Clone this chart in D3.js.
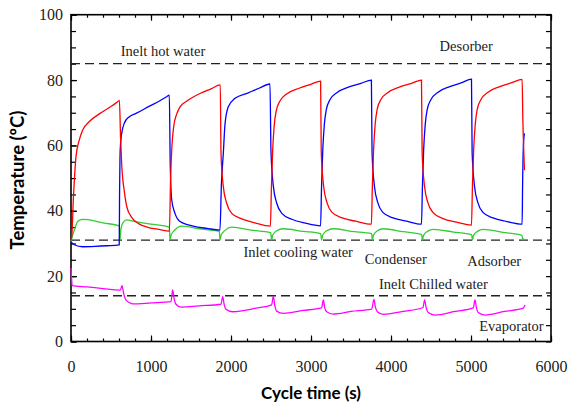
<!DOCTYPE html>
<html>
<head>
<meta charset="utf-8">
<script src="https://d3js.org/d3.v7.min.js"></script>
<style>
  body { margin: 0; background: #fff; }
  text { font-family: "Liberation Serif", "Times New Roman", serif; fill: #222; }
  .title { font-family: Lato, "Open Sans", sans-serif; font-weight: bold; fill: #000; }
</style>
</head>
<body>
<svg id="chart"></svg>
<script>
  // values: [time (s), temperature (C)]
  var bed1Temp = [
    [0,31],[12,33],[30,44],[42,49.4],[62,56.5],[104,61.7],[146,64.7],[229,67.3],[363,69.8],[480,71.6],[571,73.1],[605,73.8],
    [620,62],[634,54],[666,46],[700,41],[758,38],[850,36],[950,35],[1100,34.3],[1230,33.8],
    [1245,50],[1262,60],[1285,66],[1320,69.5],[1363,71.8],[1450,73.6],[1613,75.9],[1750,77.3],[1866,78.5],
    [1875,57.7],[1904,47.4],[1946,42.3],[2009,39.2],[2134,37.5],[2300,36.3],[2493,35.3],
    [2505,47],[2520,58],[2540,66],[2565,70.5],[2610,73.5],[2700,75.8],[2850,77.5],[3000,78.7],[3120,79.7],
    [3128,58],[3158,47.5],[3200,42.5],[3263,39.5],[3390,37.8],[3560,36.8],[3755,35.9],
    [3767,47.5],[3782,58.5],[3802,66.5],[3827,71],[3872,74],[3962,76.2],[4110,77.9],[4260,79],[4381,80],
    [4389,58],[4419,47.5],[4461,42.5],[4524,39.5],[4650,37.6],[4820,36.5],[5006,35.6],
    [5018,47.5],[5033,58.5],[5053,66.5],[5078,71],[5123,74],[5213,76.3],[5360,78],[5510,79.2],[5639,80.2],
    [5648,68],[5660,58],[5668,52.4]
  ];

  var bed2Temp = [
    [0,30.5],[40,29.6],[146,29.0],[300,29.1],[450,29.3],[603,29.6],
    [607,45],[612,56],[620,60.7],[640,64.5],[666,66.8],[729,68.8],[813,69.8],[988,72.1],[1100,73.5],[1196,74.9],[1229,75.4],
    [1240,55],[1259,43.3],[1300,39.2],[1363,36.7],[1529,35.3],[1700,34.6],[1862,34.1],
    [1880,48],[1904,57.6],[1925,66.5],[1966,71.8],[2050,74.4],[2216,76.1],[2350,77.5],[2487,78.8],
    [2500,58],[2530,47.4],[2572,42.3],[2635,39.2],[2760,37.4],[2930,36.2],[3120,35.4],
    [3132,47.5],[3147,58.5],[3167,66.5],[3192,71],[3237,74],[3327,76.2],[3475,77.9],[3625,79],[3755,80],
    [3763,58],[3793,47.5],[3835,42.5],[3898,39.5],[4025,37.8],[4195,36.8],[4381,35.9],
    [4393,47.5],[4408,58.5],[4428,66.5],[4453,71],[4498,74],[4588,76.3],[4735,78],[4885,79.2],[5006,80.3],
    [5014,58],[5044,47.5],[5086,42.5],[5149,39.5],[5275,37.8],[5450,36.7],[5639,35.9],
    [5645,48],[5655,60],[5668,63.7]
  ];

  var condenserTemp = [
    [0,30.5],[20,32.5],[42,34.1],[83,36.7],[146,37.4],[213,37.3],[400,36.3],[604,35.4],
    [612,31.0],[620,33.5],[646,36.2],[696,37.2],[800,36.7],[1000,35.9],[1229,35.0],
    [1238,31.0],[1250,32.5],[1300,34.2],[1383,35.3],[1600,34.5],[1854,33.7],
    [1862,31.0],[1875,32.5],[1925,34.0],[2008,35.0],[2250,34.1],[2496,33.3],
    [2508,31.0],[2520,32.5],[2570,33.9],[2654,34.5],[2900,33.7],[3121,33.0],
    [3133,31.0],[3145,32.5],[3195,33.9],[3279,34.5],[3500,33.7],[3758,33.0],
    [3767,31.0],[3780,32.5],[3830,33.9],[3904,34.5],[4150,33.6],[4383,32.7],
    [4393,31.0],[4405,32.4],[4455,33.7],[4529,34.3],[4780,33.5],[5008,32.7],
    [5018,31.0],[5030,32.4],[5080,33.7],[5154,34.3],[5400,33.4],[5636,32.5],
    [5650,31.0],[5660,31.5]
  ];

  var evaporatorTemp = [
    [0,22.5],[8,19],[15,17.1],[200,16.7],[400,16.2],[617,15.75],[637,17.1],[660,14.5],[687,12.7],[730,11.9],[771,11.5],[1000,11.8],
    [1250,12.2],[1271,15.8],[1290,13],[1312,11.4],[1375,10.5],[1600,10.9],[1875,11.4],[1896,13.7],[1915,11.3],[1937,9.9],[2021,9.1],
    [2312,10.2],[2508,11.2],[2529,13.9],[2548,11],[2571,9.3],[2654,8.6],[2900,9.5],[3133,10.3],[3154,12.7],[3172,10.3],[3196,9.1],
    [3279,8.4],[3500,9.2],[3758,9.9],[3787,12.9],[3805,10.5],[3829,9.1],[3904,8.3],[4150,9.2],[4400,10.4],[4420,12.7],[4440,10.3],
    [4466,8.9],[4550,8.1],[4800,9.2],[5029,10.3],[5050,12.7],[5068,10.3],[5091,8.9],[5175,8.1],[5420,9.2],[5654,10.2],[5675,11.2]
  ];

  // inlet water temperatures (dashed lines)
  var inletTemps = [85, 31, 14];

  var xTicks = [0, 1000, 2000, 3000, 4000, 5000, 6000];
  var yTicks = [0, 20, 40, 60, 80, 100];

  var labels = [
    { text: "Inelt hot water", t: 1150, v: 87.4 },
    { text: "Desorber", t: 4940, v: 88.9 },
    { text: "Inlet cooling water", t: 2840, v: 25.9 },
    { text: "Condenser", t: 4060, v: 23.7 },
    { text: "Adsorber", t: 5290, v: 23.1 },
    { text: "Inelt Chilled water", t: 4530, v: 16 },
    { text: "Evaporator", t: 5506, v: 3.2 }
  ];

  var width = 568, height = 408;
  var plotLeft = 71, plotRight = 551, plotTop = 14.7, plotBottom = 341.5;

  var svg = d3.select("#chart")
      .attr("width", width)
      .attr("height", height);

  var x = d3.scaleLinear().domain([0, 6000]).range([plotLeft, plotRight]);
  var y = d3.scaleLinear().domain([0, 100]).range([plotBottom, plotTop]);

  // minor ticks every 200 s and 5 C
  var xMinor = d3.range(0, 6001, 200);
  var yMinor = d3.range(0, 101, 5);

  function ticks(axis, values, size) {
    return axis.tickValues(values).tickSizeInner(size).tickSizeOuter(0).tickFormat("");
  }

  svg.append("g").attr("transform", "translate(0," + plotBottom + ")").call(ticks(d3.axisBottom(x), xMinor, -3));
  svg.append("g").attr("transform", "translate(0," + plotTop + ")").call(ticks(d3.axisTop(x), xMinor, -3));
  svg.append("g").attr("transform", "translate(" + plotLeft + ",0)").call(ticks(d3.axisLeft(y), yMinor, -5));
  svg.append("g").attr("transform", "translate(" + plotRight + ",0)").call(ticks(d3.axisRight(y), yMinor, -5));

  svg.append("g")
      .attr("transform", "translate(0," + plotBottom + ")")
      .call(d3.axisBottom(x).tickValues(xTicks).tickFormat(d3.format("d"))
        .tickSizeInner(-6).tickSizeOuter(0).tickPadding(19))
      .attr("font-family", "Liberation Serif")
      .attr("font-size", 16);
  svg.append("g").attr("transform", "translate(0," + plotTop + ")")
      .call(ticks(d3.axisTop(x), xTicks, -6));

  svg.append("g")
      .attr("transform", "translate(" + plotLeft + ",0)")
      .call(d3.axisLeft(y).tickValues(yTicks).tickFormat(d3.format("d"))
        .tickSizeInner(-6).tickSizeOuter(0).tickPadding(8))
      .attr("font-family", "Liberation Serif")
      .attr("font-size", 16);

  svg.selectAll(".tick line").attr("stroke", "#000").attr("stroke-width", 1.2);
  svg.selectAll(".domain").remove();
  svg.selectAll(".tick text").attr("fill", "#222");

  // frame
  svg.append("rect")
      .attr("x", plotLeft).attr("y", plotTop)
      .attr("width", plotRight - plotLeft).attr("height", plotBottom - plotTop)
      .attr("fill", "none").attr("stroke", "#000").attr("stroke-width", 1.6);

  // dashed inlet lines
  svg.selectAll(".inlet")
      .data(inletTemps)
    .enter().append("line")
      .attr("x1", x(0)).attr("x2", x(6000))
      .attr("y1", function(d) { return y(d); })
      .attr("y2", function(d) { return y(d); })
      .attr("stroke", "#222").attr("stroke-width", 1.3)
      .attr("stroke-dasharray", "9,5");

  var line = d3.line()
      .x(function(d) { return x(d[0]); })
      .y(function(d) { return y(d[1]); })
      .curve(d3.curveMonotoneX);

  var series = [
    { data: condenserTemp, color: "#33cc33" },
    { data: evaporatorTemp, color: "#ff00ff" },
    { data: bed2Temp, color: "#0000ff" },
    { data: bed1Temp, color: "#ff0000" }
  ];

  svg.selectAll(".series")
      .data(series)
    .enter().append("path")
      .attr("d", function(d) { return line(d.data); })
      .attr("fill", "none")
      .attr("stroke", function(d) { return d.color; })
      .attr("stroke-width", 1.3);

  svg.selectAll(".label")
      .data(labels)
    .enter().append("text")
      .attr("x", function(d) { return x(d.t); })
      .attr("y", function(d) { return y(d.v); })
      .attr("text-anchor", "middle")
      .style("font-size", "14.5px")
      .text(function(d) { return d.text; });

  // axis titles
  svg.append("text")
      .attr("class", "title")
      .attr("x", (plotLeft + plotRight) / 2)
      .attr("y", 399)
      .attr("text-anchor", "middle")
      .style("font-size", "17px")
      .text("Cycle time (s)");

  svg.append("text")
      .attr("class", "title")
      .attr("transform", "translate(24," + ((plotTop + plotBottom) / 2 + 2) + ") rotate(-90)")
      .attr("text-anchor", "middle")
      .style("font-size", "18.5px")
      .text("Temperature (ºC)");
</script>
</body>
</html>
